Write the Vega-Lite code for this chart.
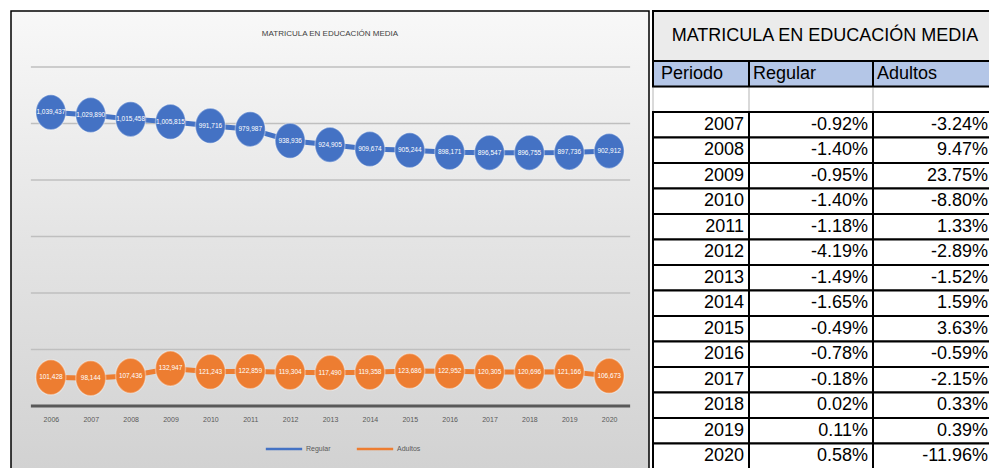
{
  "$schema": "https://vega.github.io/schema/vega-lite/v6.json",
  "background": "#ffffff",
  "padding": {"left": 10, "top": 10, "right": 0, "bottom": 0},
  "bounds": "flush",
  "spacing": 4,
  "config": {"view": {"stroke": null}, "font": "Liberation Sans"},
  "datasets": {
    "matricula": [
      {"anio": "2006", "serie": "Regular", "matricula": 1039437},
      {"anio": "2007", "serie": "Regular", "matricula": 1029890},
      {"anio": "2008", "serie": "Regular", "matricula": 1015458},
      {"anio": "2009", "serie": "Regular", "matricula": 1005815},
      {"anio": "2010", "serie": "Regular", "matricula": 991716},
      {"anio": "2011", "serie": "Regular", "matricula": 979987},
      {"anio": "2012", "serie": "Regular", "matricula": 938936},
      {"anio": "2013", "serie": "Regular", "matricula": 924905},
      {"anio": "2014", "serie": "Regular", "matricula": 909674},
      {"anio": "2015", "serie": "Regular", "matricula": 905244},
      {"anio": "2016", "serie": "Regular", "matricula": 898171},
      {"anio": "2017", "serie": "Regular", "matricula": 896547},
      {"anio": "2018", "serie": "Regular", "matricula": 896755},
      {"anio": "2019", "serie": "Regular", "matricula": 897736},
      {"anio": "2020", "serie": "Regular", "matricula": 902912},
      {"anio": "2006", "serie": "Adultos", "matricula": 101428},
      {"anio": "2007", "serie": "Adultos", "matricula": 98144},
      {"anio": "2008", "serie": "Adultos", "matricula": 107436},
      {"anio": "2009", "serie": "Adultos", "matricula": 132947},
      {"anio": "2010", "serie": "Adultos", "matricula": 121243},
      {"anio": "2011", "serie": "Adultos", "matricula": 122859},
      {"anio": "2012", "serie": "Adultos", "matricula": 119304},
      {"anio": "2013", "serie": "Adultos", "matricula": 117490},
      {"anio": "2014", "serie": "Adultos", "matricula": 119358},
      {"anio": "2015", "serie": "Adultos", "matricula": 123686},
      {"anio": "2016", "serie": "Adultos", "matricula": 122952},
      {"anio": "2017", "serie": "Adultos", "matricula": 120305},
      {"anio": "2018", "serie": "Adultos", "matricula": 120696},
      {"anio": "2019", "serie": "Adultos", "matricula": 121166},
      {"anio": "2020", "serie": "Adultos", "matricula": 106673}
    ],
    "tabla": [
      {"fila": "vacio", "Periodo": "", "Regular": "", "Adultos": ""},
      {"fila": "encabezado", "Periodo": "Periodo", "Regular": "Regular", "Adultos": "Adultos"},
      {"fila": "2007", "Periodo": "2007", "Regular": "-0.92%", "Adultos": "-3.24%"},
      {"fila": "2008", "Periodo": "2008", "Regular": "-1.40%", "Adultos": "9.47%"},
      {"fila": "2009", "Periodo": "2009", "Regular": "-0.95%", "Adultos": "23.75%"},
      {"fila": "2010", "Periodo": "2010", "Regular": "-1.40%", "Adultos": "-8.80%"},
      {"fila": "2011", "Periodo": "2011", "Regular": "-1.18%", "Adultos": "1.33%"},
      {"fila": "2012", "Periodo": "2012", "Regular": "-4.19%", "Adultos": "-2.89%"},
      {"fila": "2013", "Periodo": "2013", "Regular": "-1.49%", "Adultos": "-1.52%"},
      {"fila": "2014", "Periodo": "2014", "Regular": "-1.65%", "Adultos": "1.59%"},
      {"fila": "2015", "Periodo": "2015", "Regular": "-0.49%", "Adultos": "3.63%"},
      {"fila": "2016", "Periodo": "2016", "Regular": "-0.78%", "Adultos": "-0.59%"},
      {"fila": "2017", "Periodo": "2017", "Regular": "-0.18%", "Adultos": "-2.15%"},
      {"fila": "2018", "Periodo": "2018", "Regular": "0.02%", "Adultos": "0.33%"},
      {"fila": "2019", "Periodo": "2019", "Regular": "0.11%", "Adultos": "0.39%"},
      {"fila": "2020", "Periodo": "2020", "Regular": "0.58%", "Adultos": "-11.96%"}
    ]
  },
  "hconcat": [
    {
      "width": 638,
      "height": 458,
      "view": {
        "fill": {"gradient": "linear", "x1": 0, "y1": 0, "x2": 0, "y2": 1,
          "stops": [{"offset": 0, "color": "#f8f8f8"}, {"offset": 0.5, "color": "#e4e4e4"}, {"offset": 1, "color": "#d2d2d2"}]},
        "stroke": "#000000",
        "strokeWidth": 1.5
      },
      "title": {"text": "MATRICULA EN EDUCACIÓN MEDIA", "fontSize": 8, "fontWeight": "normal", "color": "#404040", "font": "Liberation Sans", "offset": -27, "anchor": "middle"},
      "layer": [
        {
          "data": {"values": [{"valor": 200000}, {"valor": 400000}, {"valor": 600000}, {"valor": 800000}, {"valor": 1000000}, {"valor": 1200000}]},
          "mark": {"type": "rule", "color": "#bfbfbf", "strokeWidth": 1.3, "xOffset": -20, "x2Offset": 21},
          "encoding": {
            "x": {"datum": "2006", "type": "ordinal", "scale": {"type": "point", "padding": 1},
              "axis": {"title": null, "orient": "bottom", "domain": false, "ticks": false, "grid": false, "labelAngle": 0, "labelFontSize": 7, "labelColor": "#595959", "labelFont": "Liberation Sans", "offset": -54, "labelPadding": 0}},
            "x2": {"datum": "2020"},
            "y": {"field": "valor", "type": "quantitative", "scale": {"domain": [-223009, 1398230], "nice": false, "zero": false}, "axis": null}
          }
        },
        {
          "data": {"values": [{"valor": 0}]},
          "mark": {"type": "rule", "color": "#595959", "strokeWidth": 3, "xOffset": -20, "x2Offset": 21},
          "encoding": {
            "x": {"datum": "2006", "type": "ordinal", "scale": {"type": "point", "padding": 1},
              "axis": {"title": null, "orient": "bottom", "domain": false, "ticks": false, "grid": false, "labelAngle": 0, "labelFontSize": 7, "labelColor": "#595959", "labelFont": "Liberation Sans", "offset": -54, "labelPadding": 0}},
            "x2": {"datum": "2020"},
            "y": {"field": "valor", "type": "quantitative", "scale": {"domain": [-223009, 1398230], "nice": false, "zero": false}, "axis": null}
          }
        },
        {
          "data": {"name": "matricula"},
          "encoding": {
            "x": {"field": "anio", "type": "ordinal", "scale": {"type": "point", "padding": 1},
              "axis": {"title": null, "orient": "bottom", "domain": false, "ticks": false, "grid": false, "labelAngle": 0, "labelFontSize": 7, "labelColor": "#595959", "labelFont": "Liberation Sans", "offset": -54, "labelPadding": 0}},
            "y": {"field": "matricula", "type": "quantitative", "scale": {"domain": [-223009, 1398230], "nice": false, "zero": false}, "axis": null},
            "color": {"field": "serie", "type": "nominal", "scale": {"domain": ["Regular", "Adultos"], "range": ["#4472c4", "#ed7d31"]},
              "legend": {"title": null, "orient": "none", "legendX": 263, "legendY": 428, "direction": "horizontal", "symbolType": "M -2.1 0 L 2.1 0", "symbolSize": 300, "symbolStrokeWidth": 2.5, "labelOffset": 12, "labelFontSize": 7, "labelColor": "#595959", "labelFont": "Liberation Sans", "padding": 0, "columnPadding": 20}}
          },
          "layer": [
            {"mark": {"type": "line", "strokeWidth": 5}},
            {"mark": {"type": "point", "filled": true, "opacity": 1, "size": 1225, "shape": "M -0.857 0 A 0.857 1 0 1 1 0.857 0 A 0.857 1 0 1 1 -0.857 0 Z", "stroke": "#ffffff", "strokeOpacity": 0.35, "strokeWidth": 1.5}},
            {"mark": {"type": "text", "color": "#ffffff", "fontSize": 6.5, "font": "Liberation Sans"},
              "encoding": {"text": {"field": "matricula", "type": "quantitative", "format": ","}, "color": {"value": "#ffffff"}}}
          ]
        }
      ]
    },
    {
      "vconcat": [
        {
          "width": 344,
          "height": 50,
          "data": {"values": [{"titulo": "MATRICULA EN EDUCACIÓN MEDIA"}]},
          "view": {"fill": "#ebebeb", "stroke": "#000000", "strokeWidth": 2},
          "mark": {"type": "text", "fontSize": 18, "font": "Liberation Sans", "color": "#000000"},
          "encoding": {"text": {"field": "titulo", "type": "nominal"}}
        },
        {
          "hconcat": [
            {
              "width": 96,
              "height": 408,
              "data": {"name": "tabla"},
              "encoding": {"y": {"field": "fila", "type": "nominal", "scale": {"domain": ["encabezado", "vacio", "2007", "2008", "2009", "2010", "2011", "2012", "2013", "2014", "2015", "2016", "2017", "2018", "2019", "2020"], "paddingInner": 0, "paddingOuter": 0}, "axis": null}},
              "layer": [
                {"mark": {"type": "rect", "strokeWidth": 2},
                  "encoding": {"fill": {"condition": {"test": "datum.fila === 'encabezado'", "value": "#b4c6e7"}, "value": "#ffffff"},
                    "stroke": {"condition": {"test": "datum.fila === 'vacio'", "value": "#d9d9d9"}, "value": "#000000"}}},
                {"transform": [{"filter": "datum.fila === 'encabezado'"}],
                  "mark": {"type": "text", "align": "left", "dx": -40, "fontSize": 18, "font": "Liberation Sans", "color": "#000000"},
                  "encoding": {"text": {"field": "Periodo", "type": "nominal"}}},
                {"transform": [{"filter": "datum.fila !== 'encabezado'"}],
                  "mark": {"type": "text", "align": "right", "dx": 43, "fontSize": 18, "font": "Liberation Sans", "color": "#000000"},
                  "encoding": {"text": {"field": "Periodo", "type": "nominal"}}}
              ]
            },
            {
              "width": 124,
              "height": 408,
              "data": {"name": "tabla"},
              "encoding": {"y": {"field": "fila", "type": "nominal", "scale": {"domain": ["encabezado", "vacio", "2007", "2008", "2009", "2010", "2011", "2012", "2013", "2014", "2015", "2016", "2017", "2018", "2019", "2020"], "paddingInner": 0, "paddingOuter": 0}, "axis": null}},
              "layer": [
                {"mark": {"type": "rect", "strokeWidth": 2},
                  "encoding": {"fill": {"condition": {"test": "datum.fila === 'encabezado'", "value": "#b4c6e7"}, "value": "#ffffff"},
                    "stroke": {"condition": {"test": "datum.fila === 'vacio'", "value": "#d9d9d9"}, "value": "#000000"}}},
                {"transform": [{"filter": "datum.fila === 'encabezado'"}],
                  "mark": {"type": "text", "align": "left", "dx": -58, "fontSize": 18, "font": "Liberation Sans", "color": "#000000"},
                  "encoding": {"text": {"field": "Regular", "type": "nominal"}}},
                {"transform": [{"filter": "datum.fila !== 'encabezado'"}],
                  "mark": {"type": "text", "align": "right", "dx": 57, "fontSize": 18, "font": "Liberation Sans", "color": "#000000"},
                  "encoding": {"text": {"field": "Regular", "type": "nominal"}}}
              ]
            },
            {
              "width": 124,
              "height": 408,
              "data": {"name": "tabla"},
              "encoding": {"y": {"field": "fila", "type": "nominal", "scale": {"domain": ["encabezado", "vacio", "2007", "2008", "2009", "2010", "2011", "2012", "2013", "2014", "2015", "2016", "2017", "2018", "2019", "2020"], "paddingInner": 0, "paddingOuter": 0}, "axis": null}},
              "layer": [
                {"mark": {"type": "rect", "strokeWidth": 2},
                  "encoding": {"fill": {"condition": {"test": "datum.fila === 'encabezado'", "value": "#b4c6e7"}, "value": "#ffffff"},
                    "stroke": {"condition": {"test": "datum.fila === 'vacio'", "value": "#d9d9d9"}, "value": "#000000"}}},
                {"transform": [{"filter": "datum.fila === 'encabezado'"}],
                  "mark": {"type": "text", "align": "left", "dx": -58, "fontSize": 18, "font": "Liberation Sans", "color": "#000000"},
                  "encoding": {"text": {"field": "Adultos", "type": "nominal"}}},
                {"transform": [{"filter": "datum.fila !== 'encabezado'"}],
                  "mark": {"type": "text", "align": "right", "dx": 53, "fontSize": 18, "font": "Liberation Sans", "color": "#000000"},
                  "encoding": {"text": {"field": "Adultos", "type": "nominal"}}}
              ]
            }
          ],
          "spacing": 0,
          "bounds": "flush"
        }
      ],
      "spacing": 0,
      "bounds": "flush"
    }
  ]
}
